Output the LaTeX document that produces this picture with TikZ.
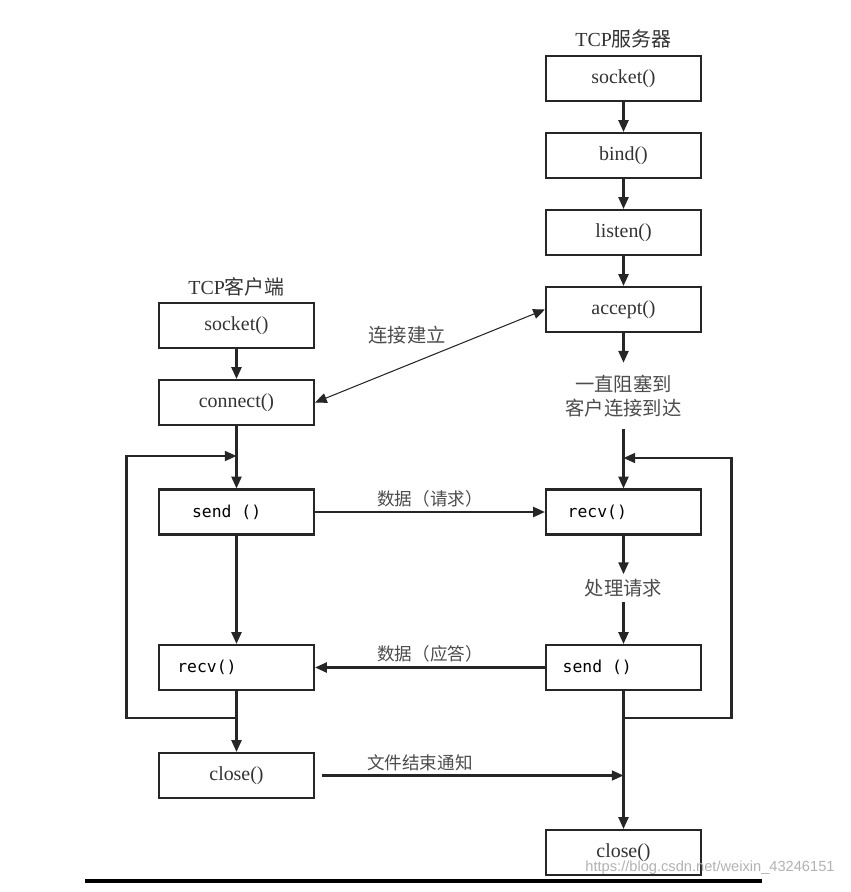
\documentclass[tikz,border=0pt]{standalone}
\usepackage{fontspec}
\setmainfont{Liberation Serif}
\newfontfamily\cjk{Noto Sans CJK SC}
\newfontfamily\codefont{DejaVu Sans Mono}
\newfontfamily\markfont{Liberation Sans}
\usepackage{tikz}
\usetikzlibrary{positioning,arrows.meta}

\tikzset{
  func/.style={draw=black!85, line width=1.8pt, minimum width=4.65cm, minimum height=1.35cm,
    text=black!80, font=\fontsize{17}{19}\selectfont},
  code/.style={font=\codefont\fontsize{14}{16}\selectfont, text=black},
  note/.style={font=\cjk\fontsize{16.5}{21}\selectfont, text=black!70, align=center},
  data/.style={note, font=\cjk\fontsize{15}{18}\selectfont},
}

\begin{document}
\begin{tikzpicture}[x=0.03cm, y=-0.03cm, ->, >={Triangle[length=10pt,width=8.5pt]},
    line width=1.8pt, draw=black!85, node distance=2.31cm]
	\useasboundingbox (0,0) rectangle (851,892);

	% server side
	\node (stitle) at (623.5,39) {\fontsize{17}{19}\selectfont\color{black!80}TCP{\cjk 服务器}};
	\node[func] (ssock) at (623.5,78.5) {socket()};
	\node[func] (sbind) [below of=ssock] {bind()};
	\node[func] (slisten) [below of=sbind] {listen()};
	\node[func] (saccept) [below of=slisten] {accept()};
	\node[note] (block) at (623.5,396) {一直阻塞到\\客户连接到达};
	\node[func, code] (srecv) at (623.5,512) {\kern-3.2em recv()};
	\node[note] (proc) at (623.5,588) {处理请求};
	\node[func, code] (ssend) at (623.5,667.5) {\kern-3.2em send ()};
	\node[func] (sclose) at (623.5,852.5) {close()};

	% client side
	\node (ctitle) at (236.5,287) {\fontsize{17}{19}\selectfont\color{black!80}TCP{\cjk 客户端}};
	\node[func] (csock) at (236.5,325.5) {socket()};
	\node[func] (cconn) [below of=csock] {connect()};
	\node[func, code] (csend) at (236.5,512) {\kern-1.2em send ()};
	\node[func, code] (crecv) at (236.5,667.5) {\kern-3.6em\raisebox{-0.5ex}{recv()}};
	\node[func] (cclose) at (236.5,775.5) {close()};

	\coordinate (sin) at (623.5,458);
	\coordinate (sback) at (623.5,718);
	\coordinate (cin) at (236.5,456);
	\coordinate (cback) at (236.5,718);
	\coordinate (fin) at (623.5,775.5);

	\draw (ssock) -- (sbind);
	\draw (sbind) -- (slisten);
	\draw (slisten) -- (saccept);
	\draw[shorten >=6pt] (saccept) -- (block);
	\draw[-, shorten <=6pt] (block) -- (sin);
	\draw (sin) -- (srecv);
	\draw (srecv) -- (proc);
	\draw (proc) -- (ssend);
	\draw (ssend) -- (sclose);
	\draw (sback) -- ++(108,0) |- (sin);

	\draw (csock) -- (cconn);
	\draw[-] (cconn) -- (cin);
	\draw (cin) -- (csend);
	\draw (csend) -- (crecv);
	\draw (crecv) -- (cclose);
	\draw (cback) -- ++(-110,0) |- (cin);

	\draw[<->, line width=0.9pt] (cconn.east) -- node[note, pos=0.4, above=14pt] {连接建立} (saccept.west);
	\draw (csend) -- node[data, above] {数据（请求）} (srecv);
	\draw (ssend) -- node[data, above] {数据（应答）} (crecv);
	\draw[shorten <=6pt] (cclose) -- node[data, pos=0.34, above] {文件结束通知} (fin);

	\draw[-, line width=3pt, draw=black] (85,881) -- (762,881);
	\node[font=\markfont\fontsize{12.5}{15}\selectfont, text=black!30] (mark) at (710,868) {https://blog.csdn.net/weixin\_43246151};
\end{tikzpicture}
\end{document}
